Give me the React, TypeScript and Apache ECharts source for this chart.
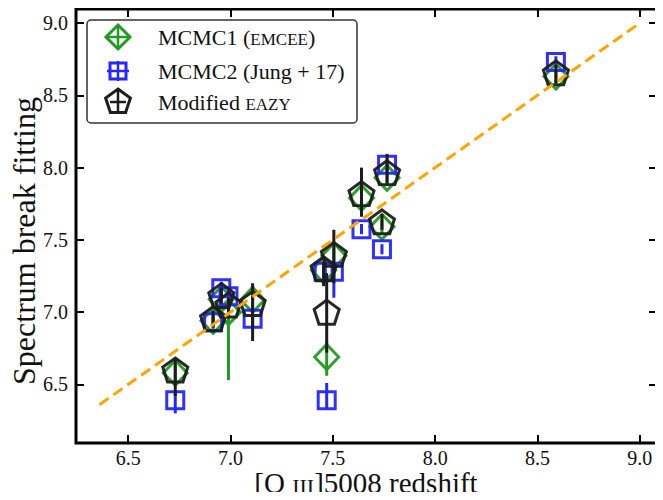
import React, { useEffect, useRef } from "react";
import * as echarts from "echarts";

// [O III]5008 redshift of each galaxy
const zOIII = [6.73, 6.915, 6.955, 6.99, 7.108, 7.455, 7.505, 7.47, 7.64, 7.765, 7.74, 8.59];

// MCMC1 (emcee)
const mcmc1 = [6.58, 6.94, 7.09, 7.0, 7.085, 7.29, 7.39, 6.69, 7.79, 7.93, 7.59, 8.63];
const mcmc1Low = [6.5, 6.88, 7.04, 6.53, 7.0, 7.24, 7.33, 6.56, 7.72, 7.88, 7.54, 8.58];
const mcmc1High = [6.64, 6.99, 7.14, 7.08, 7.17, 7.34, 7.45, 6.8, 7.87, 7.99, 7.64, 8.68];

// MCMC2 (Jung+17)
const mcmc2 = [6.39, 6.93, 7.165, 7.11, 6.955, 7.28, 7.28, 6.39, 7.573, 8.02, 7.435, 8.73];
const mcmc2Low = [6.3, 6.89, 7.12, 7.06, 6.9, 7.24, 7.1, 6.33, 7.54, 7.98, 7.4, 8.69];
const mcmc2High = [6.44, 6.97, 7.21, 7.16, 7.0, 7.32, 7.32, 6.51, 7.61, 8.06, 7.47, 8.77];

// Modified EAZY
const eazy = [6.6, 6.955, 7.115, 7.05, 7.06, 7.3, 7.4, 7.0, 7.82, 7.965, 7.625, 8.655];
const eazyLow = [6.42, 6.9, 7.06, 7.0, 6.8, 7.18, 7.2, 6.72, 7.66, 7.89, 7.57, 8.58];
const eazyHigh = [6.67, 7.01, 7.17, 7.1, 7.2, 7.35, 7.57, 7.27, 8.0, 8.095, 7.68, 8.71];

// one-to-one line
const oneToOne = [6.36, 9.0];

const xTicks = [6.5, 7.0, 7.5, 8.0, 8.5, 9.0];
const yTicks = [6.5, 7.0, 7.5, 8.0, 8.5, 9.0];

const GREEN = "#239b23";
const BLUE = "#2626ff";
const BLACK = "#1c1c1c";
const FONT = "'Liberation Serif', 'DejaVu Serif', serif";
const TXT = "#111";

const PENTAGON = "path://M0,-50 L47.55,-15.45 L29.39,40.45 L-29.39,40.45 L-47.55,-15.45 Z";

function errSeries(color: string, lows: number[], highs: number[], z: number) {
  return {
    type: "custom",
    silent: true,
    z,
    data: zOIII.map((x, i) => [x, lows[i], highs[i]]),
    encode: { x: 0, y: [1, 2] },
    renderItem: (_p: any, api: any) => {
      const a = api.coord([api.value(0), api.value(1)]);
      const b = api.coord([api.value(0), api.value(2)]);
      return {
        type: "line",
        shape: { x1: a[0], y1: a[1], x2: b[0], y2: b[1] },
        style: { stroke: color, lineWidth: 3 },
      };
    },
  };
}

function scatterSeries(name: string, vals: number[], symbol: string, size: any, color: string, z: number) {
  return {
    type: "scatter",
    name,
    z,
    silent: true,
    symbol,
    symbolSize: size,
    data: zOIII.map((x, i) => [x, vals[i]]),
    itemStyle: { color: "rgba(0,0,0,0)", borderColor: color, borderWidth: 3, opacity: 0.95 },
  };
}

function baseAxis(pos: string, isX: boolean, ticks: number[], min: number, max: number, showLabel: boolean) {
  return {
    type: "value",
    position: pos,
    min,
    max,
    axisLine: { show: false },
    splitLine: { show: false },
    axisTick: {
      show: true,
      inside: true,
      length: 8,
      lineStyle: { color: "#000", width: 2 },
      customValues: ticks,
    },
    axisLabel: {
      show: showLabel,
      customValues: ticks,
      formatter: (v: number) => v.toFixed(1),
      fontFamily: FONT,
      fontSize: 20,
      color: TXT,
      margin: isX ? 5 : 8,
    },
  };
}

export default function App() {
  const ref = useRef<HTMLDivElement>(null);
  useEffect(() => {
    if (!ref.current) return;
    const chart = echarts.init(ref.current, null, { renderer: "svg" });
    const xMin = 6.245, xMax = 9.084, yMin = 6.095, yMax = 9.097;

    const lx = 118;
    const rows = [37, 71, 102];
    const legendText = (y: number, text: string) => ({
      type: "text",
      z: 101,
      style: {
        x: 158,
        y,
        text,
        verticalAlign: "middle",
        fontFamily: FONT,
        fontSize: 22,
        fill: TXT,
        rich: {
          sc: { fontFamily: FONT, fontSize: 17, fill: TXT, verticalAlign: "bottom" },
        },
      },
    });
    const cross = (y: number, h: number, w: number, color: string) => [
      { type: "line", z: 102, shape: { x1: lx, y1: y - h, x2: lx, y2: y + h }, style: { stroke: color, lineWidth: 2.5 } },
      { type: "line", z: 102, shape: { x1: lx - w, y1: y, x2: lx + w, y2: y }, style: { stroke: color, lineWidth: 2.5 } },
    ];

    chart.setOption({
      animation: false,
      grid: {
        left: 76,
        top: 9,
        width: 581,
        height: 434,
        show: true,
        borderColor: "#000",
        borderWidth: 3,
        backgroundColor: "#fff",
        containLabel: false,
        outerBoundsMode: "none",
      },
      xAxis: [
        { ...baseAxis("bottom", true, xTicks, xMin, xMax, true) },
        { ...baseAxis("top", true, xTicks, xMin, xMax, false) },
      ],
      yAxis: [
        { ...baseAxis("left", false, yTicks, yMin, yMax, true) },
        { ...baseAxis("right", false, yTicks, yMin, yMax, false) },
      ],
      series: [
        errSeries(GREEN, mcmc1Low, mcmc1High, 2),
        scatterSeries("MCMC1 (emcee)", mcmc1, "diamond", [24, 25], GREEN, 3),
        errSeries(BLUE, mcmc2Low, mcmc2High, 4),
        scatterSeries("MCMC2 (Jung+17)", mcmc2, "rect", [17, 17], BLUE, 5),
        errSeries(BLACK, eazyLow, eazyHigh, 6),
        scatterSeries("Modified EAZY", eazy, PENTAGON, [25, 24], BLACK, 7),
        {
          type: "line",
          z: 8,
          silent: true,
          symbol: "none",
          data: oneToOne.map((v) => [v, v]),
          lineStyle: { color: "#ffa500", width: 3, type: [11, 6] },
        },
      ],
      graphic: [
        {
          type: "text",
          z: 50,
          x: 40,
          y: 241,
          rotation: Math.PI / 2,
          style: {
            text: "Spectrum break fitting",
            fontFamily: FONT,
            fontSize: 32,
            fill: TXT,
            align: "center",
            verticalAlign: "bottom",
          },
        },
        {
          type: "text",
          z: 50,
          x: 366,
          y: 483,
          style: {
            text: "[O {sc|III}]5008 redshift",
            fontFamily: FONT,
            fontSize: 29,
            fill: TXT,
            align: "center",
            verticalAlign: "middle",
            rich: { sc: { fontFamily: FONT, fontSize: 22, fill: TXT, verticalAlign: "bottom" } },
          },
        },
        {
          type: "rect",
          z: 100,
          shape: { x: 87, y: 20, width: 270, height: 103, r: 4 },
          style: { fill: "#fff", stroke: "#333", lineWidth: 1.5 },
        },
        {
          type: "polygon",
          z: 101,
          shape: { points: [[lx, rows[0] - 12], [lx + 12, rows[0]], [lx, rows[0] + 12], [lx - 12, rows[0]]] },
          style: { fill: "none", stroke: GREEN, lineWidth: 3 },
        },
        ...cross(rows[0], 12, 12, GREEN),
        {
          type: "rect",
          z: 101,
          shape: { x: lx - 8, y: rows[1] - 8, width: 16, height: 16 },
          style: { fill: "none", stroke: BLUE, lineWidth: 3 },
        },
        ...cross(rows[1], 10, 11, BLUE),
        {
          type: "polygon",
          z: 101,
          shape: {
            points: [
              [lx, rows[2] - 13],
              [lx + 12.4, rows[2] - 4],
              [lx + 7.6, rows[2] + 10.5],
              [lx - 7.6, rows[2] + 10.5],
              [lx - 12.4, rows[2] - 4],
            ],
          },
          style: { fill: "none", stroke: BLACK, lineWidth: 3 },
        },
        ...cross(rows[2], 12, 8, BLACK),
        legendText(rows[0], "MCMC1 ({sc|EMCEE})"),
        legendText(rows[1], "MCMC2 (Jung + 17)"),
        legendText(rows[2], "Modified {sc|EAZY}"),
      ],
    });
    return () => chart.dispose();
  }, []);
  return <div ref={ref} style={{ width: 663, height: 500, margin: -8 }} />;
}
